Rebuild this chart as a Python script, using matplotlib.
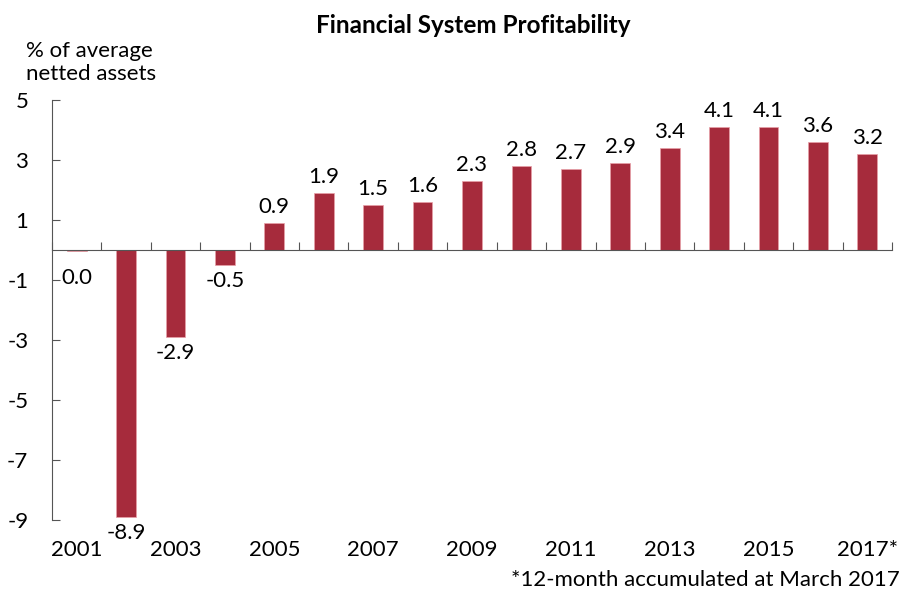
import matplotlib.pyplot as plt
import matplotlib.transforms as mtransforms
import numpy as np

plt.rcParams['font.family'] = ['Lato', 'DejaVu Sans']

years = ['2001', '2002', '2003', '2004', '2005', '2006', '2007', '2008', '2009',
         '2010', '2011', '2012', '2013', '2014', '2015', '2016', '2017*']
values = [-0.04, -8.9, -2.9, -0.5, 0.9, 1.9, 1.5, 1.6, 2.3,
          2.8, 2.7, 2.9, 3.4, 4.1, 4.1, 3.6, 3.2]
labels = ['0.0', '-8.9', '-2.9', '-0.5', '0.9', '1.9', '1.5', '1.6', '2.3',
          '2.8', '2.7', '2.9', '3.4', '4.1', '4.1', '3.6', '3.2']
yticks = [5, 3, 1, -1, -3, -5, -7, -9]

bar_color = '#A62B3C'
fs = 16

fig = plt.figure(figsize=(9.04, 5.93), dpi=100)
ax = fig.add_axes([0.0575, 0.1231, 0.9292, 0.7083])

x = np.arange(len(years))
ax.bar(x, values, width=0.4, color=bar_color, edgecolor='#E8A0A8', linewidth=0.5)

ax.set_xlim(-0.5, len(years) - 0.5)
ax.set_ylim(-9, 5)

# spines: left axis + zero line
ax.spines['top'].set_visible(False)
ax.spines['right'].set_visible(False)
ax.spines['bottom'].set_position(('data', 0))
ax.spines['left'].set_color('#555555')
ax.spines['bottom'].set_color('#555555')

ax.set_yticks(yticks)
ax.set_yticklabels([str(t) for t in yticks])
ax.tick_params(axis='y', direction='in', length=6, pad=17, labelsize=fs, color='#555555')

ax.set_xticks(np.arange(len(years) + 1) - 0.5)
ax.set_xticklabels([])
ax.tick_params(axis='x', direction='in', length=6, color='#555555')

# year labels every other category, under the plot
trans = mtransforms.blended_transform_factory(ax.transData, ax.transAxes)
for i, yr in enumerate(years):
    if i % 2 == 0:
        ax.text(i, -0.072, yr, transform=trans, ha='center', va='center', fontsize=fs)

# data labels
for i, (v, lab) in enumerate(zip(values, labels)):
    if v >= 0:
        ax.annotate(lab, (i, v), xytext=(0, 4), textcoords='offset points',
                    ha='center', va='bottom', fontsize=fs)
    else:
        ax.annotate(lab, (i, min(v, -0.4)), xytext=(0, -4), textcoords='offset points',
                    ha='center', va='top', fontsize=fs)

fig.text(0.523, 0.957, 'Financial System Profitability', ha='center', va='center',
         fontsize=17.5, fontweight='bold')
fig.text(0.029, 0.895, '% of average\nnetted assets', ha='left', va='center',
         fontsize=fs, linespacing=1.2)
fig.text(0.995, 0.022, '*12-month accumulated at March 2017', ha='right', va='center',
         fontsize=fs)

fig.savefig('out.png', dpi=100)
